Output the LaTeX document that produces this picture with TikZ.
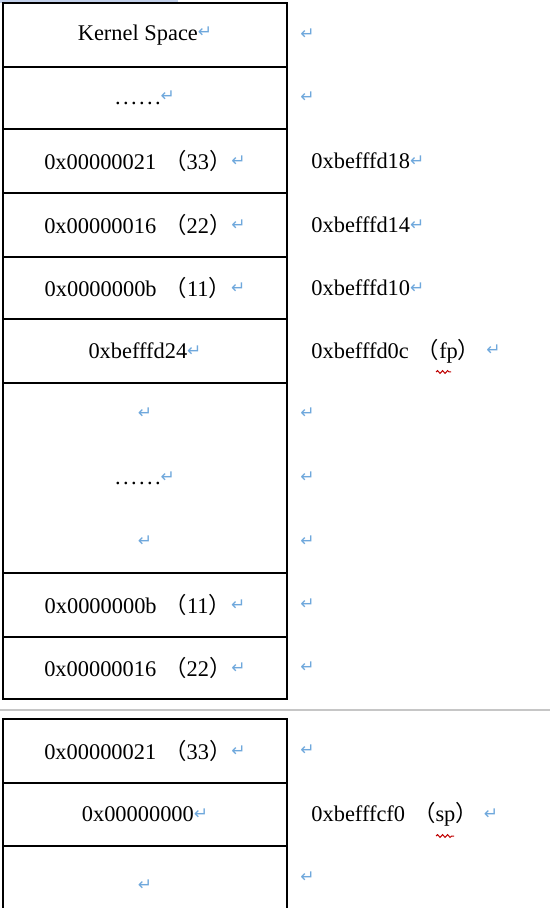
\documentclass[tikz,border=0pt]{standalone}
\usepackage{fontspec}
\setmainfont{Liberation Serif}
\newfontfamily\cjk{Noto Sans CJK SC}
\newfontfamily\symfont{DejaVu Sans}
\usetikzlibrary{positioning, decorations.pathmorphing}
\definecolor{markblue}{HTML}{6FA8DC}
\definecolor{barblue}{HTML}{C2D0EA}

\newcommand{\retmark}{\raisebox{0.25ex}{\textcolor{markblue}{\symfont\fontsize{8.5}{9}\selectfont ↵}}}
\newcommand{\fw}[1]{\hspace{4pt}{\cjk （}#1{\cjk ）}}
\newcommand{\dotrow}{.\hspace{1.2pt}.\hspace{1.2pt}.\hspace{1.2pt}.\hspace{1.2pt}.\hspace{1.2pt}.}

\begin{document}
\begin{tikzpicture}[
  x=0.5pt, y=-0.5pt,
  cell/.style={rectangle, draw=black, line width=1pt, outer sep=0pt,
               inner sep=0pt, minimum width=142pt, align=center,
               font=\fontsize{11.2}{14}\selectfont},
  addr/.style={inner sep=0pt, align=left,
               font=\fontsize{11.2}{14}\selectfont},
  pbreak/.style={draw=gray!45, line width=1pt},
  squig/.style={draw=red!75!black, line width=0.5pt, decorate,
                decoration={snake, amplitude=0.7pt, segment length=2.5pt}}
]
\useasboundingbox (0,0) rectangle (550,908);
\clip (0,0) rectangle (550,908);

% page decorations
\fill[barblue] (0,0) rectangle (178,3);
\draw[pbreak] (0,710) -- (550,710);

% first table, left column
\node[cell, minimum height=32pt, anchor=north west] (c1) at (3,3) {Kernel Space\retmark};
\node[cell, minimum height=31pt, below=0pt of c1] (c2) {\dotrow\retmark};
\node[cell, minimum height=32pt, below=0pt of c2] (c3) {0x00000021\fw{33}\retmark};
\node[cell, minimum height=32pt, below=0pt of c3] (c4) {0x00000016\fw{22}\retmark};
\node[cell, minimum height=31pt, below=0pt of c4] (c5) {0x0000000b\fw{11}\retmark};
\node[cell, minimum height=32pt, below=0pt of c5] (c6) {0xbefffd24\retmark};
\node[cell, minimum height=95pt, below=0pt of c6] (c7) {\retmark\\[18pt]\dotrow\retmark\\[18pt]\retmark};
\node[cell, minimum height=32pt, below=0pt of c7] (c8) {0x0000000b\fw{11}\retmark};
\node[cell, minimum height=31pt, below=0pt of c8] (c9) {0x00000016\fw{22}\retmark};

% second table, left column
\node[cell, minimum height=32pt, anchor=north west] (d1) at (3,719) {0x00000021\fw{33}\retmark};
\node[cell, minimum height=31.5pt, below=0pt of d1] (d2) {0x00000000\retmark};
\node[cell, minimum height=40pt, below=0pt of d2] (d3) {\retmark};

% right column
\node[addr, right=6.5pt of c1] (a1) {\retmark};
\node[addr, right=6.5pt of c2] (a2) {\retmark};
\node[addr, right=12pt of c3] (a3) {0xbefffd18\retmark};
\node[addr, right=12pt of c4] (a4) {0xbefffd14\retmark};
\node[addr, right=12pt of c5] (a5) {0xbefffd10\retmark};
\node[addr, right=12pt of c6] (a6) {0xbefffd0c\fw{fp}\hspace{3pt}\retmark};
\node[addr, right=6.5pt of c7] (a7) {\retmark\\[18pt]\retmark\\[18pt]\retmark};
\node[addr, right=6.5pt of c8] (a8) {\retmark};
\node[addr, right=6.5pt of c9] (a9) {\retmark};
\node[addr, right=6.5pt of d1] (b1) {\retmark};
\node[addr, right=12pt of d2] (b2) {0xbefffcf0\fw{sp}\hspace{3pt}\retmark};
\node[addr, right=6.5pt of d3, yshift=4pt] (b3) {\retmark};

% spelling marks
\draw[squig] (436,372) -- (451,372);
\draw[squig] (436,836) -- (454,836);
\end{tikzpicture}
\end{document}
